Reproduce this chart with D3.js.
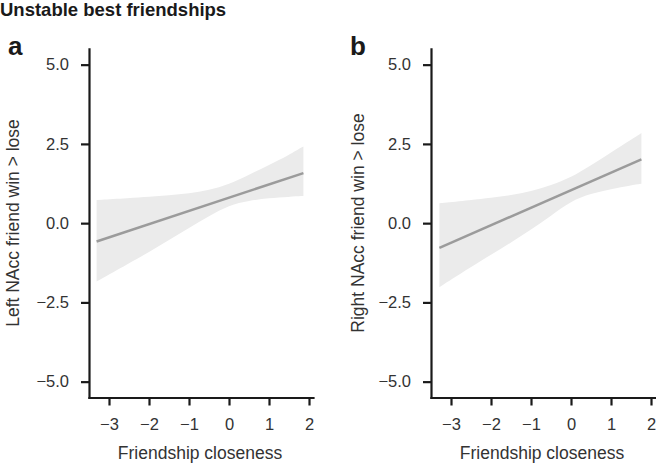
<!DOCTYPE html>
<html>
<head>
<meta charset="utf-8">
<script src="https://cdn.jsdelivr.net/npm/d3@7"></script>
<style>
  body { margin: 0; background: #fff; }
  svg text { font-family: "Liberation Sans", Arial, Helvetica, sans-serif; }
</style>
</head>
<body>
<div id="viz"></div>
<script>
const bandXLeft = [-3.31, -2.5, -2, -1.5, -1, -0.5, 0, 0.5, 1, 1.5, 1.86];
const upperLeft = [0.73, 0.79, 0.83, 0.88, 0.93, 1.04, 1.22, 1.53, 1.83, 2.15, 2.42];
const lowerLeft = [-1.84, -1.27, -0.91, -0.53, -0.15, 0.22, 0.57, 0.71, 0.79, 0.83, 0.86];
const fitXLeft = [-3.31, 1.86];
const fitYLeft = [-0.58, 1.58];

const bandXRight = [-3.29, -2.5, -2, -1.5, -1, -0.5, 0, 0.5, 1, 1.5, 1.76];
const upperRight = [0.63, 0.73, 0.80, 0.88, 1.00, 1.19, 1.44, 1.82, 2.23, 2.63, 2.84];
const lowerRight = [-2.02, -1.38, -1.00, -0.61, -0.20, 0.23, 0.70, 0.93, 1.08, 1.19, 1.24];
const fitXRight = [-3.29, 1.76];
const fitYRight = [-0.78, 2.01];

const xTicks = [-3, -2, -1, 0, 1, 2];
const yTicks = [-5, -2.5, 0, 2.5, 5];
const panelLetters = ["a", "b"];
const yTitles = ["Left NAcc friend win > lose", "Right NAcc friend win > lose"];
const xTitle = "Friendship closeness";
const chartTitle = "Unstable best friendships";

const width = 656;
const height = 465;

const svg = d3.select("#viz").append("svg")
    .attr("width", width)
    .attr("height", height);

svg.append("text")
    .attr("x", 0)
    .attr("y", 16)
    .attr("font-size", 18.5)
    .attr("font-weight", "bold")
    .attr("fill", "#1a1a1a")
    .text(chartTitle);

const panels = [
    { bx: bandXLeft, up: upperLeft, lo: lowerLeft, fx: fitXLeft, fy: fitYLeft },
    { bx: bandXRight, up: upperRight, lo: lowerRight, fx: fitXRight, fy: fitYRight }
];

panels.forEach((p, i) => {
    const off = i * 342;
    const g = svg.append("g").attr("transform", `translate(${off},0)`);

    const x = d3.scaleLinear().domain([-3.5, 2.1]).range([89, 313]);
    const y = d3.scaleLinear().domain([-5.5, 5.5]).range([397.5, 48.8]);

    const band = p.bx.map((v, j) => ({ x: v, lo: p.lo[j], hi: p.up[j] }));
    const area = d3.area()
        .x(d => x(d.x))
        .y0(d => y(d.lo))
        .y1(d => y(d.hi))
        .curve(d3.curveBasis);

    g.append("path")
        .attr("d", area(band))
        .attr("fill", "#ebebeb");

    const fit = p.fx.map((v, j) => ({ x: v, y: p.fy[j] }));
    g.append("path")
        .attr("d", d3.line().x(d => x(d.x)).y(d => y(d.y))(fit))
        .attr("fill", "none")
        .attr("stroke", "#9b9b9b")
        .attr("stroke-width", 2.5);

    const yAxis = g.append("g")
        .attr("transform", "translate(89,0)")
        .call(d3.axisLeft(y).tickValues(yTicks).tickFormat(d3.format(".1f"))
            .tickSize(8).tickSizeOuter(0).tickPadding(12));

    const xAxis = g.append("g")
        .attr("transform", "translate(0,397.5)")
        .call(d3.axisBottom(x).tickValues(xTicks).tickFormat(d3.format("d"))
            .tickSize(8).tickSizeOuter(0).tickPadding(13));

    [yAxis, xAxis].forEach(a => {
        a.select(".domain").attr("stroke", "#1a1a1a").attr("stroke-width", 2.2)
            .attr("stroke-linecap", "square");
        a.selectAll(".tick line").attr("stroke", "#1a1a1a").attr("stroke-width", 2.2);
        a.selectAll(".tick text")
            .attr("font-size", 16.5)
            .attr("fill", "#333")
            .style("font-family", '"Liberation Sans", Arial, sans-serif');
    });

    g.append("text")
        .attr("x", 8)
        .attr("y", 55)
        .attr("font-size", 26)
        .attr("font-weight", "bold")
        .attr("fill", "#1a1a1a")
        .text(panelLetters[i]);

    g.append("text")
        .attr("transform", `translate(${i === 0 ? 19 : 22},223) rotate(-90)`)
        .attr("text-anchor", "middle")
        .attr("font-size", 17.5)
        .attr("fill", "#333")
        .text(yTitles[i]);

    g.append("text")
        .attr("x", 200)
        .attr("y", 459)
        .attr("text-anchor", "middle")
        .attr("font-size", 17.5)
        .attr("fill", "#333")
        .text(xTitle);
});
</script>
</body>
</html>
